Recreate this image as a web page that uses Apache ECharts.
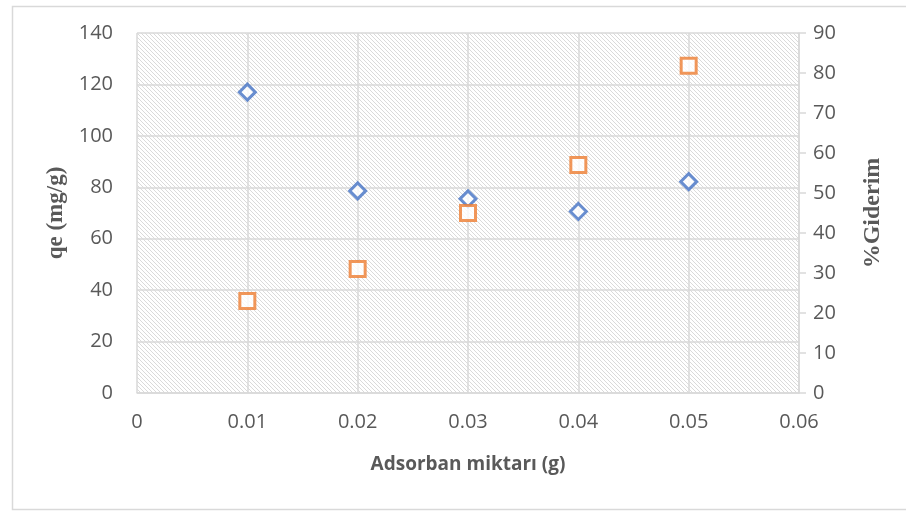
<!DOCTYPE html>
<html>
<head>
<meta charset="utf-8">
<script src="https://cdn.jsdelivr.net/npm/echarts@6/dist/echarts.min.js"></script>
<style>html,body{margin:0;padding:0;background:#fff;}#c{width:906px;height:511px;}</style>
</head>
<body>
<div id="c"></div>
<script>
const xValues = [0.01, 0.02, 0.03, 0.04, 0.05];
const qeValues = [117, 78.6, 75.5, 70.6, 82.2];
const giderimValues = [23, 31, 45, 57, 81.8];
const xTitle = 'Adsorban miktarı (g)';
const leftTitle = 'qe (mg/g)';
const rightTitle = '%Giderim';

const pc = document.createElement('canvas');
pc.width = 4; pc.height = 4;
const pctx = pc.getContext('2d');
pctx.fillStyle = '#ffffff';
pctx.fillRect(0, 0, 4, 4);
pctx.fillStyle = '#dadada';
for (let i = 0; i < 4; i++) pctx.fillRect(i, i, 1, 1);

const chart = echarts.init(document.getElementById('c'), null, {renderer: 'canvas'});
const txt = '#595959';
const gridC = '#d9d9d9';
chart.setOption({
  animation: false,
  graphic: [{
    type: 'rect', left: 10, top: 4, shape: {width: 910, height: 503},
    style: {fill: 'none', stroke: '#d9d9d9', lineWidth: 1.5}, z: -10
  }],
  grid: {
    left: 137, right: 107, top: 33, bottom: 118,
    show: true, borderWidth: 0,
    backgroundColor: {image: pc, repeat: 'repeat'}
  },
  xAxis: {
    type: 'value', min: 0, max: 0.06, interval: 0.01,
    name: xTitle, nameLocation: 'middle', nameGap: 62,
    nameTextStyle: {fontFamily: 'Open Sans', fontWeight: 'bold', fontSize: 19, color: txt},
    axisLine: {show: true, lineStyle: {color: gridC, width: 1.5}},
    axisTick: {show: false},
    axisLabel: {fontFamily: 'Open Sans', fontSize: 20, color: txt, margin: 19},
    splitLine: {show: true, lineStyle: {color: gridC, width: 1.5}}
  },
  yAxis: [{
    type: 'value', min: 0, max: 140, interval: 20, position: 'left',
    name: leftTitle, nameLocation: 'middle', nameGap: 68, nameRotate: 90,
    nameTextStyle: {fontFamily: 'Liberation Serif', fontWeight: 'bold', fontSize: 23, color: txt},
    axisLine: {show: false}, axisTick: {show: false},
    axisLabel: {fontFamily: 'Open Sans', fontSize: 20, color: txt, margin: 24},
    splitLine: {show: true, lineStyle: {color: gridC, width: 1.5}}
  }, {
    type: 'value', min: 0, max: 90, interval: 10, position: 'right',
    name: rightTitle, nameLocation: 'middle', nameGap: 62, nameRotate: 90,
    nameTextStyle: {fontFamily: 'Liberation Serif', fontWeight: 'bold', fontSize: 24, color: txt},
    axisLine: {show: true, lineStyle: {color: gridC, width: 1.5}},
    axisTick: {show: true, length: 7, lineStyle: {color: gridC, width: 1.5}},
    axisLabel: {fontFamily: 'Open Sans', fontSize: 20, color: txt, margin: 14},
    splitLine: {show: false}
  }],
  series: [{
    type: 'scatter', yAxisIndex: 0,
    data: xValues.map((x, i) => [x, qeValues[i]]),
    symbol: 'diamond', symbolSize: 16,
    itemStyle: {color: '#ffffff', borderColor: '#4472c4', borderWidth: 3},
    z: 3
  }, {
    type: 'scatter', yAxisIndex: 1,
    data: xValues.map((x, i) => [x, giderimValues[i]]),
    symbol: 'rect', symbolSize: 15,
    itemStyle: {color: '#ffffff', borderColor: '#ed7d31', borderWidth: 3},
    z: 4
  }]
});
</script>
</body>
</html>
